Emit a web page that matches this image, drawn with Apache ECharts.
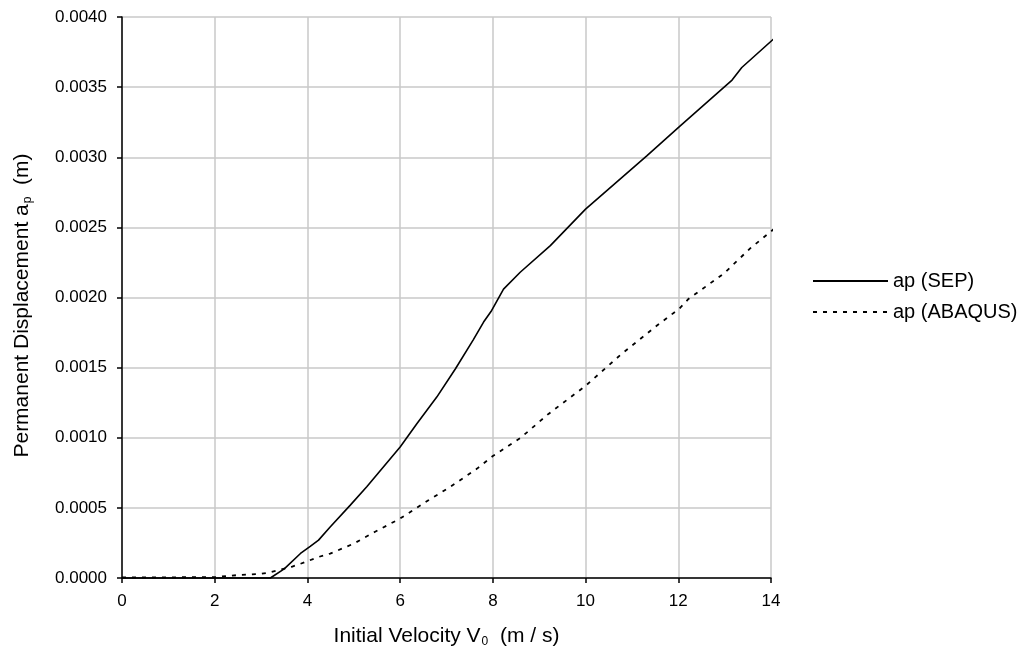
<!DOCTYPE html>
<html>
<head>
<meta charset="utf-8">
<script src="https://cdn.jsdelivr.net/npm/echarts@6/dist/echarts.min.js"></script>
<style>
  html, body { margin: 0; padding: 0; background: #fff; }
  #main { width: 1026px; height: 664px; }
</style>
</head>
<body>
<div id="main"></div>
<script>
// initial velocity (m/s) and permanent displacement (m)
var sepV = [0, 1, 2, 3.2, 3.5, 3.85, 4.06, 4.24, 4.49, 4.92, 5.28, 6.0, 6.36, 6.79, 7.19, 7.58, 7.8, 7.96, 8.23, 8.59, 9.24, 10.0, 11.32, 12.03, 13.16, 13.37, 14.18];
var sepAp = [0, 0, 0, 0, 0.000065, 0.000175, 0.000225, 0.00027, 0.000364, 0.000518, 0.00065, 0.000934, 0.0011, 0.00129, 0.00149, 0.0017, 0.001825, 0.0019, 0.00206, 0.00218, 0.00237, 0.00263, 0.00301, 0.00322, 0.00355, 0.00364, 0.00388];

var abqV = [0, 1, 2, 2.47, 3.0, 3.19, 3.66, 3.84, 4.24, 4.49, 5.0, 5.46, 6.0, 6.61, 7.08, 7.66, 8.0, 8.6, 9.2, 10.0, 10.75, 11.54, 12.02, 12.22, 12.98, 13.55, 14.18];
var abqAp = [0.000005, 0.000005, 0.000006, 0.00002, 0.00003, 0.00004, 0.00008, 0.0001, 0.00015, 0.000174, 0.000245, 0.00033, 0.000424, 0.000554, 0.00065, 0.00078, 0.00087, 0.001, 0.00117, 0.00137, 0.00159, 0.0018, 0.00192, 0.00199, 0.00217, 0.00235, 0.00252];

var xTicks = [0, 2, 4, 6, 8, 10, 12, 14];
var yTicks = [0, 0.0005, 0.001, 0.0015, 0.002, 0.0025, 0.003, 0.0035, 0.004];

function pairs(xs, ys) {
  return xs.map(function (x, i) { return [x, ys[i]]; });
}

var chartDom = document.getElementById('main');
var myChart = echarts.init(chartDom);
var font = 'Arial, "Liberation Sans", Helvetica, sans-serif';
var subStyle = { fontFamily: font, fontSize: 12, padding: [11, 0, 0, 1] };

var option = {
  animation: false,
  textStyle: { fontFamily: font, color: '#000' },
  grid: { left: 122, right: 255, top: 17, bottom: 86 },
  legend: {
    orient: 'vertical',
    left: 812,
    top: 271,
    padding: 0,
    itemWidth: 75,
    itemHeight: 12,
    itemGap: 11,
    itemStyle: { opacity: 0 },
    textStyle: { fontFamily: font, fontSize: 20, color: '#000' },
    data: ['ap (SEP)', 'ap (ABAQUS)']
  },
  xAxis: {
    type: 'value',
    min: 0,
    max: xTicks[xTicks.length - 1],
    interval: 2,
    name: 'Initial Velocity V{sub|0}  (m / s)',
    nameLocation: 'middle',
    nameGap: 47,
    nameTextStyle: { fontFamily: font, fontSize: 21, color: '#000', rich: { sub: subStyle } },
    axisLine: { lineStyle: { color: '#000', width: 1.5 } },
    axisTick: { show: true, length: 5, lineStyle: { color: '#000', width: 1.5 } },
    axisLabel: { fontSize: 17, color: '#000', margin: 15 },
    splitLine: { show: true, lineStyle: { color: '#c8c8c8', width: 1.5 } }
  },
  yAxis: {
    type: 'value',
    min: 0,
    max: yTicks[yTicks.length - 1],
    interval: 0.0005,
    name: 'Permanent Displacement a{sub|p}  (m)',
    nameLocation: 'middle',
    nameGap: 88,
    nameTextStyle: {
      fontFamily: font, fontSize: 21, color: '#000', padding: [0, 16, 0, 0],
      rich: { sub: subStyle }
    },
    axisLine: { show: true, lineStyle: { color: '#000', width: 1.5 } },
    axisTick: { show: true, length: 5, lineStyle: { color: '#000', width: 1.5 } },
    axisLabel: {
      fontSize: 17, color: '#000', margin: 15,
      formatter: function (v) { return v.toFixed(4); }
    },
    splitLine: { show: true, lineStyle: { color: '#c8c8c8', width: 1.5 } }
  },
  series: [
    {
      name: 'ap (SEP)',
      type: 'line',
      data: pairs(sepV, sepAp),
      showSymbol: false,
      symbol: 'none',
      clip: false,
      lineStyle: { color: '#000', width: 1.6 },
      itemStyle: { color: '#000' }
    },
    {
      name: 'ap (ABAQUS)',
      type: 'line',
      data: pairs(abqV, abqAp),
      showSymbol: false,
      symbol: 'none',
      clip: false,
      lineStyle: { color: '#000', width: 1.8, type: [4, 6] },
      itemStyle: { color: '#000' }
    }
  ]
};

myChart.setOption(option);
</script>
</body>
</html>
